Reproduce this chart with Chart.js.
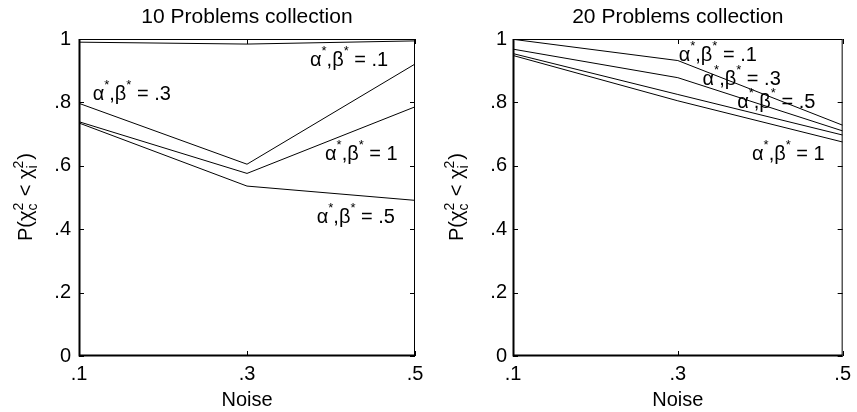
<!DOCTYPE html>
<html>
<head>
<meta charset="utf-8">
<script src="https://cdn.jsdelivr.net/npm/chart.js@4/dist/chart.umd.min.js"></script>
<style>
html,body{margin:0;padding:0;background:#fff;}
#wrap{position:relative;width:857px;height:412px;overflow:hidden;}
canvas{position:absolute;top:0;}
</style>
</head>
<body>
<div id="wrap">
<canvas id="c1" width="430" height="412" style="left:0px"></canvas>
<canvas id="c2" width="427" height="412" style="left:430px"></canvas>
</div>
<script>
// ---- data ----
const noise = [0.1, 0.3, 0.5];
const xTickVals = [0.1, 0.3, 0.5];
const xTickLabels = ['.1', '.3', '.5'];
const yTickVals = [0, 0.2, 0.4, 0.6, 0.8, 1];
const yTickLabels = ['0', '.2', '.4', '.6', '.8', '1'];

const titles = ['10 Problems collection', '20 Problems collection'];
const seriesNames = ['.1', '.3', '.5', '1'];

// 10 problems collection
const p10_a01 = [0.990, 0.984, 0.994];
const p10_a03 = [0.797, 0.605, 0.921];
const p10_a05 = [0.735, 0.536, 0.491];
const p10_a1  = [0.739, 0.576, 0.786];

// 20 problems collection
const p20_a01 = [0.999, 0.932, 0.728];
const p20_a03 = [0.968, 0.878, 0.710];
const p20_a05 = [0.954, 0.825, 0.697];
const p20_a1  = [0.948, 0.805, 0.675];

const FONT = '"Liberation Sans", Arial, Helvetica, sans-serif';

function pts(vals){ return noise.map((x,i)=>({x:x, y:vals[i]})); }

function drawAlphaBeta(ctx, x, y, val){
  ctx.textAlign = 'left';
  ctx.textBaseline = 'alphabetic';
  const big = '20px ' + FONT, small = '13px ' + FONT;
  let cx = x;
  ctx.font = big; ctx.fillText('\u03b1', cx, y); cx += ctx.measureText('\u03b1').width;
  ctx.font = small; ctx.fillText('*', cx, y - 11); cx += ctx.measureText('*').width;
  ctx.font = big; ctx.fillText(',\u03b2', cx, y); cx += ctx.measureText(',\u03b2').width;
  ctx.font = small; ctx.fillText('*', cx, y - 11); cx += ctx.measureText('*').width;
  ctx.font = big; ctx.fillText(' = ' + val, cx, y);
}

function drawYTitle(ctx, bx, cy){
  const big = '20px ' + FONT, small = '14px ' + FONT;
  ctx.save();
  ctx.translate(bx, cy);
  ctx.rotate(-Math.PI/2);
  ctx.textBaseline = 'alphabetic';
  ctx.textAlign = 'left';
  const parts = [
    {t:'P(\u03c7', f:big},
    {stack:['2','c']},
    {t:' < \u03c7', f:big},
    {stack:['2','i']},
    {t:')', f:big}
  ];
  let total = 0;
  for (const p of parts){
    if (p.stack){ ctx.font = small; p.w = Math.max(ctx.measureText(p.stack[0]).width, ctx.measureText(p.stack[1]).width) + 1; }
    else { ctx.font = p.f; p.w = ctx.measureText(p.t).width; }
    total += p.w;
  }
  let x = -total/2;
  for (const p of parts){
    if (p.stack){
      ctx.font = small;
      ctx.fillText(p.stack[0], x, -9);
      ctx.fillText(p.stack[1], x, 5);
    } else {
      ctx.font = p.f; ctx.fillText(p.t, x, 0);
    }
    x += p.w;
  }
  ctx.restore();
}

const decorPlugin = {
  id: 'decor',
  afterDraw(chart, args, opts){
    const ctx = chart.ctx;
    const {left, right, top, bottom} = chart.chartArea;
    const xs = chart.scales.x, ys = chart.scales.y;
    ctx.save();
    ctx.strokeStyle = '#000';
    ctx.fillStyle = '#000';
    ctx.lineWidth = 1;
    // box
    ctx.beginPath();
    ctx.moveTo(left + 0.5, top + 0.5);
    ctx.lineTo(right - 0.5, top + 0.5);
    ctx.lineTo(right - 0.5, bottom - 0.5);
    ctx.stroke();
    ctx.lineWidth = 2;
    ctx.beginPath();
    ctx.moveTo(left + 0.5, top);
    ctx.lineTo(left + 0.5, bottom - 0.5);
    ctx.lineTo(right, bottom - 0.5);
    ctx.stroke();
    ctx.lineWidth = 1;
    // inward ticks
    const tl = 5;
    ctx.beginPath();
    for (const v of xTickVals){
      const px = Math.round(xs.getPixelForValue(v)) + 0.5;
      ctx.moveTo(px, bottom); ctx.lineTo(px, bottom - tl);
      ctx.moveTo(px, top); ctx.lineTo(px, top + tl);
    }
    for (const v of yTickVals){
      const py = Math.round(ys.getPixelForValue(v)) + 0.5;
      ctx.moveTo(left, py); ctx.lineTo(left + tl, py);
      ctx.moveTo(right, py); ctx.lineTo(right - tl, py);
    }
    ctx.stroke();
    // title
    ctx.font = '21px ' + FONT;
    ctx.textAlign = 'center';
    ctx.textBaseline = 'alphabetic';
    ctx.fillText(opts.title, (left + right)/2, 23);
    // x title
    ctx.font = '20px ' + FONT;
    ctx.fillText('Noise', (left + right)/2, 406);
    // y title
    drawYTitle(ctx, left + opts.yTitleOffset, 197);
    // series labels
    for (const l of opts.labels){
      drawAlphaBeta(ctx, xs.getPixelForValue(l.x), ys.getPixelForValue(l.y), l.v);
    }
    ctx.restore();
  }
};

function makeChart(id, series, title, yw, padRight, tickPad, yTitleOffset, labels){
  const ds = series.map(s => ({
    data: pts(s),
    borderColor: '#000',
    borderWidth: 1,
    pointRadius: 0,
    fill: false,
    tension: 0
  }));
  return new Chart(document.getElementById(id), {
    type: 'line',
    data: { datasets: ds },
    options: {
      responsive: false,
      animation: false,
      devicePixelRatio: 1,
      layout: { padding: { left: 0, right: padRight, top: 39, bottom: 0 } },
      plugins: {
        legend: { display: false },
        tooltip: { enabled: false },
        decor: { title: title, yTitleOffset: yTitleOffset, labels: labels }
      },
      scales: {
        x: {
          type: 'linear', min: 0.1, max: 0.5,
          afterBuildTicks: s => { s.ticks = xTickVals.map(v => ({value: v})); },
          afterFit: s => { s.height = 56; },
          grid: { display: false, drawTicks: false },
          border: { display: false },
          ticks: {
            color: '#000', padding: 6, maxRotation: 0, autoSkip: false,
            font: { family: FONT, size: 20 },
            callback: (v, i) => xTickLabels[i]
          }
        },
        y: {
          type: 'linear', min: 0, max: 1,
          afterBuildTicks: s => { s.ticks = yTickVals.map(v => ({value: v})); },
          afterFit: s => { s.width = yw; },
          grid: { display: false, drawTicks: false },
          border: { display: false },
          ticks: {
            color: '#000', padding: tickPad, autoSkip: false,
            font: { family: FONT, size: 20 },
            callback: (v, i) => yTickLabels[i]
          }
        }
      }
    },
    plugins: [decorPlugin]
  });
}

makeChart('c1', [p10_a01, p10_a03, p10_a05, p10_a1], titles[0], 79, 15, 8, -47, [
  {x: 0.1163, y: 0.806, v: seriesNames[1]},
  {x: 0.3750, y: 0.916, v: seriesNames[0]},
  {x: 0.3929, y: 0.618, v: seriesNames[3]},
  {x: 0.3830, y: 0.418, v: seriesNames[2]}
]);

makeChart('c2', [p20_a01, p20_a03, p20_a05, p20_a1], titles[1], 83, 10, 6, -50, [
  {x: 0.3010, y: 0.932, v: seriesNames[0]},
  {x: 0.3300, y: 0.855, v: seriesNames[1]},
  {x: 0.3720, y: 0.781, v: seriesNames[2]},
  {x: 0.3900, y: 0.618, v: seriesNames[3]}
]);
</script>
</body>
</html>
